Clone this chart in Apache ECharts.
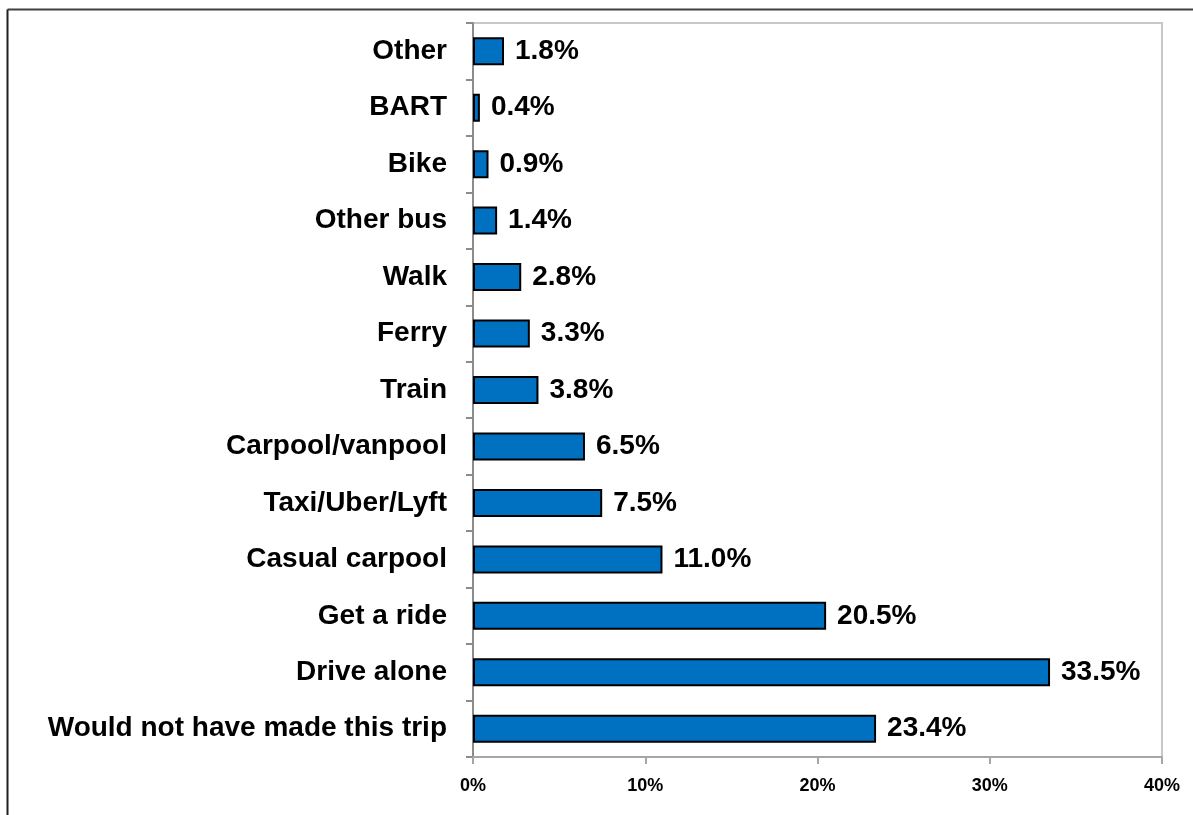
<!DOCTYPE html>
<html>
<head>
<meta charset="utf-8">
<script src="https://cdn.jsdelivr.net/npm/echarts@6/dist/echarts.min.js"></script>
<style>
  html, body { margin: 0; padding: 0; background: #ffffff; }
  #chart { width: 1193px; height: 815px; }
</style>
</head>
<body>
<div id="chart"></div>
<script>
// Travel mode categories, listed top to bottom
const modes = [
  'Other', 'BART', 'Bike', 'Other bus', 'Walk', 'Ferry', 'Train',
  'Carpool/vanpool', 'Taxi/Uber/Lyft', 'Casual carpool', 'Get a ride',
  'Drive alone', 'Would not have made this trip'
];
// Share of respondents (%)
const shares = [1.8, 0.4, 0.9, 1.4, 2.8, 3.3, 3.8, 6.5, 7.5, 11.0, 20.5, 33.5, 23.4];
// Horizontal axis ticks (%)
const axisMin = 0;
const axisMax = 40;
const axisStep = 10;

const chart = echarts.init(document.getElementById('chart'), null, { renderer: 'canvas' });
const font = '"Liberation Sans", Arial, Helvetica, sans-serif';

chart.setOption({
  animation: false,
  backgroundColor: '#ffffff',
  graphic: [
    { type: 'line', shape: { x1: 7.5, y1: 9.5, x2: 1193, y2: 9.5 }, style: { stroke: '#404040', lineWidth: 2 } },
    { type: 'line', shape: { x1: 7.5, y1: 9.5, x2: 7.5, y2: 815 }, style: { stroke: '#202020', lineWidth: 2 } }
  ],
  grid: {
    left: 473, right: 31, top: 23, bottom: 58,
    show: true, borderColor: '#c8c8c8', borderWidth: 2, backgroundColor: 'transparent'
  },
  xAxis: {
    type: 'value',
    min: axisMin, max: axisMax, interval: axisStep,
    axisLine: { show: true, lineStyle: { color: '#a6a6a6', width: 2 } },
    axisTick: { show: true, length: 7, lineStyle: { color: '#a6a6a6', width: 2 } },
    splitLine: { show: false },
    axisLabel: {
      margin: 20,
      formatter: v => v + '%',
      fontFamily: font, fontWeight: 'bold', fontSize: 18, color: '#000000'
    }
  },
  yAxis: {
    type: 'category',
    data: modes,
    inverse: true,
    axisLine: { show: true, lineStyle: { color: '#8c8c8c', width: 2 } },
    axisTick: { show: true, length: 7, lineStyle: { color: '#8c8c8c', width: 2 } },
    axisLabel: {
      margin: 26,
      fontFamily: font, fontWeight: 'bold', fontSize: 28, color: '#000000'
    }
  },
  series: [{
    type: 'bar',
    data: shares,
    barWidth: 28,
    itemStyle: { color: '#0070c0', borderColor: '#000000', borderWidth: 2 },
    label: {
      show: true, position: 'right', distance: 11,
      formatter: p => p.value.toFixed(1) + '%',
      fontFamily: font, fontWeight: 'bold', fontSize: 28, color: '#000000'
    }
  }]
});
</script>
</body>
</html>
